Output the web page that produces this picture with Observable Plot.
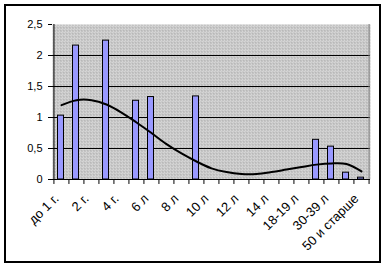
<!DOCTYPE html>
<html>
<head>
<meta charset="utf-8">
<script src="https://cdn.jsdelivr.net/npm/d3@7"></script>
<script src="https://cdn.jsdelivr.net/npm/@observablehq/plot@0.6"></script>
<style>
html,body{margin:0;padding:0;background:#fff;}
#wrap{position:relative;width:386px;height:267px;overflow:hidden;}
#border{position:absolute;left:4px;top:4px;width:373px;height:255px;border:2px solid #000;pointer-events:none;}
#chart{position:absolute;left:0;top:0;}
</style>
</head>
<body>
<svg width="0" height="0" style="position:absolute">
  <defs>
    <pattern id="pat" width="3" height="3" patternUnits="userSpaceOnUse">
      <rect width="3" height="3" fill="#d6d6d6"></rect>
      <rect width="1" height="1" fill="#8a8a8a"></rect>
      <rect x="2" y="2" width="1" height="1" fill="#a8a8a8"></rect>
    </pattern>
  </defs>
</svg>
<div id="wrap"><div id="chart"></div><div id="border"></div></div>
<script>
const categories = ["до 1 г.","1 г.","2 г.","3 г.","4 г.","5 л","6 л","7 л","8 л","9 л","10 л","11 л","12 л","13 л","14 л","15-17 л","18-19 л","20-29 л","30-39 л","40-49 л","50 и старше"];
const values = [1.03,2.16,0,2.24,0,1.27,1.33,0,0,1.34,0,0,0,0,0,0,0,0.64,0.53,0.11,0.03];
const trend = [1.2,1.28,1.28,1.21,1.08,0.92,0.75,0.57,0.42,0.29,0.18,0.12,0.09,0.09,0.12,0.16,0.2,0.24,0.26,0.25,0.13];
const yTicks = [0,0.5,1,1.5,2,2.5];
const gridValues = [0.5,1,1.5,2];
const labeled = categories.filter((_, i) => i % 2 === 0);

const data = categories.map((c, i) => ({c, v: values[i], t: trend[i]}));
const W = 386, ML = 52, MR = 16;
const step = (W - ML - MR) / categories.length;

const chart = Plot.plot({
  width: W, height: 267,
  marginLeft: ML, marginRight: MR, marginTop: 24, marginBottom: 88,
  style: {fontFamily: "Liberation Sans, Arial, sans-serif", fontSize: "11px", color: "#000", background: "transparent", overflow: "visible"},
  x: {type: "band", domain: categories, paddingInner: 0.6, paddingOuter: 0.3, align: 0.5},
  y: {domain: [0, 2.5]},
  marks: [
    Plot.frame({fill: "url(#pat)", stroke: null}),
    Plot.ruleY(gridValues, {stroke: "#000", strokeWidth: 1}),
    Plot.ruleX([categories[categories.length - 1]], {y1: 0, y2: 2.5, dx: step / 2, stroke: "#808080"}),
    Plot.barY(data.filter(d => d.v > 0), {x: "c", y: "v", fill: "#9999ff", stroke: "#000", strokeWidth: 1, dx: -0.5}),
    Plot.line(data, {x: "c", y: "t", curve: "catmull-rom", stroke: "#000", strokeWidth: 2}),
    Plot.ruleY([0], {stroke: "#000"}),
    Plot.ruleX([categories[0]], {y1: 0, y2: 2.5, dx: -step / 2, stroke: "#000"}),
    Plot.ruleX(categories, {y1: 0, y2: -0.08, dx: -step / 2, stroke: "#000"}),
    Plot.ruleX([categories[categories.length - 1]], {y1: 0, y2: -0.08, dx: step / 2, stroke: "#000"}),
    Plot.axisY({ticks: yTicks, tickSize: 4, tickPadding: 6, tickFormat: d => String(d).replace(".", ","), fontSize: 11}),
    Plot.axisX({ticks: labeled, tickSize: 0, tickRotate: -45, tickPadding: 14, dx: -5, dy: 3, fontSize: 13, label: null})
  ]
});
document.getElementById("chart").appendChild(chart);
</script>
</body>
</html>
